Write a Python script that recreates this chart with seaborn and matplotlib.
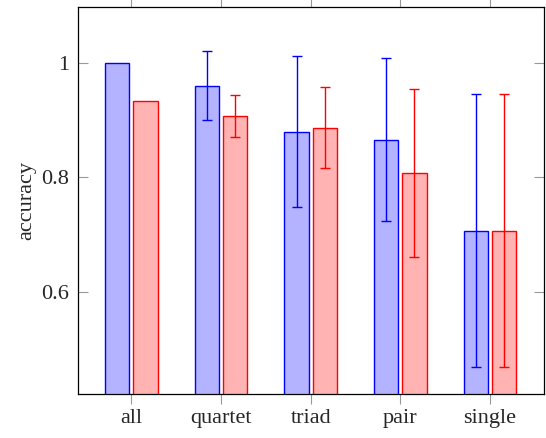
import matplotlib
matplotlib.use("Agg")
import matplotlib.pyplot as plt
import numpy as np
import pandas as pd
import seaborn as sns

# Data
categories = ["all", "quartet", "triad", "pair", "single"]
series_names = ["blue", "red"]
blue_values = [1.0, 0.960, 0.880, 0.866, 0.707]
blue_errors = [0.0, 0.060, 0.132, 0.143, 0.238]
red_values = [0.933, 0.907, 0.887, 0.807, 0.707]
red_errors = [0.0, 0.036, 0.071, 0.147, 0.238]
y_ticks = [0.6, 0.8, 1.0]
y_tick_labels = ["0.6", "0.8", "1"]

df = pd.DataFrame(
    {
        "group": categories * 2,
        "series": [series_names[0]] * 5 + [series_names[1]] * 5,
        "accuracy": blue_values + red_values,
        "err": blue_errors + red_errors,
    }
)

sns.set_style("ticks")
plt.rcParams["font.family"] = ["Liberation Serif", "DejaVu Serif"]

fills = {"blue": "#b3b3ff", "red": "#ffb3b3"}
edges = {"blue": "#0000ff", "red": "#ff0000"}

fig = plt.figure(figsize=(5.46, 4.38), dpi=100)
ax = fig.add_axes([0.142, 0.101, 0.854, 0.883])

sns.barplot(
    data=df,
    x="group",
    y="accuracy",
    hue="series",
    palette=fills,
    saturation=1,
    errorbar=None,
    width=0.63,
    gap=0.14,
    legend=False,
    ax=ax,
)

# Outline each series and add its error bars at the bar centres
for container, name in zip(ax.containers, series_names):
    sub = df[df["series"] == name]
    xs = []
    for patch in container:
        patch.set_edgecolor(edges[name])
        patch.set_linewidth(1.0)
        xs.append(patch.get_x() + patch.get_width() / 2)
    xs = np.array(xs)
    vals = sub["accuracy"].to_numpy()
    errs = sub["err"].to_numpy()
    mask = errs > 0
    ax.errorbar(
        xs[mask], vals[mask], yerr=errs[mask], fmt="none",
        ecolor=edges[name], elinewidth=1.0, capsize=3.6, capthick=1.0, zorder=5,
    )

ax.set_xlim(-0.6, 4.6)
ax.set_ylim(0.422, 1.0975)
ax.set_yticks(y_ticks)
ax.set_yticklabels(y_tick_labels)
ax.set_xlabel("")
ax.set_ylabel("accuracy", fontsize=16)

ax.tick_params(axis="x", direction="out", top=True, labeltop=False,
               length=7, width=0.8, color="#999999", labelsize=16, pad=4)
ax.tick_params(axis="y", direction="in", right=True, labelright=False,
               length=7, width=0.8, color="#999999", labelsize=16, pad=6)
for spine in ax.spines.values():
    spine.set_visible(True)
    spine.set_color("black")
    spine.set_linewidth(0.9)

fig.savefig("out.png", dpi=100)
